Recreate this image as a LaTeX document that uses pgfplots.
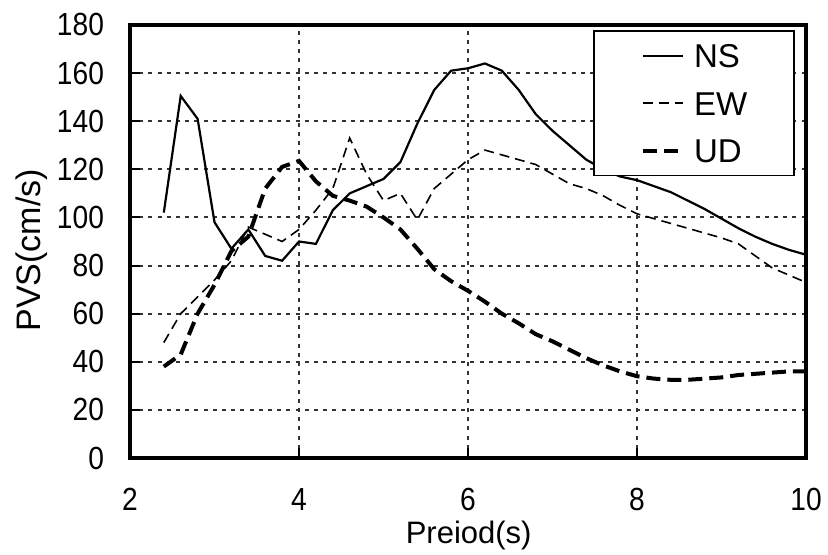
\documentclass[border=0pt]{standalone}
\usepackage{fontspec}
\setmainfont{Liberation Sans}
\newfontfamily\tickfont[FakeStretch=0.88]{Liberation Sans}
\usepackage{pgfplots}
\pgfplotsset{compat=1.18}
\begin{document}
\begin{tikzpicture}
\begin{axis}[
  scale only axis,
  width=338pt, height=216.5pt,
  xmin=2, xmax=10, ymin=0, ymax=180,
  xtick={2,4,6,8,10}, ytick={0,20,...,180},
  /pgf/number format/assume math mode=true,
  tick label style={font=\tickfont\fontsize{16}{19}\selectfont},
  xticklabel style={yshift=-11.7pt},
  yticklabel style={xshift=-9.5pt},
  axis line style={line width=1.6pt},
  tick style={line width=1pt, black},
  major tick length=5pt,
  tick align=inside,
  xtick pos=bottom, ytick pos=left,
  grid=major,
  grid style={line width=1pt, black!80, dash pattern=on 2pt off 2.6pt},
  xlabel={Preiod(s)}, ylabel={PVS(cm/s)},
  xlabel style={font=\fontsize{15.5}{18}\selectfont, at={(axis description cs:0.501,-0.178)}, anchor=center},
  ylabel style={font=\fontsize{17}{20}\selectfont, at={(axis description cs:-0.145,0.48)}, anchor=center},
  legend style={at={(0.9837,0.9885)}, anchor=north east,
    draw=black, line width=0.8pt, inner xsep=23.5pt, inner ysep=6.5pt,
    font=\fontsize{16.5}{19}\selectfont, row sep=11.7pt, column sep=4.5pt,
    nodes={inner sep=0pt, text height=12pt, text depth=0pt}},
  legend cell align=left,
  legend image code/.code={\draw[#1] (0pt,0pt) -- (20pt,0pt);},
]
\addplot[black, line width=1.1pt] coordinates {
(2.4,102) (2.6,150.5) (2.8,141) (3.0,98) (3.2,87) (3.4,95) (3.6,84) (3.8,82)
(4.0,90) (4.2,89) (4.4,103) (4.6,110) (4.8,113) (5.0,116) (5.2,123) (5.4,139)
(5.6,153) (5.8,161) (6.0,162) (6.2,164) (6.4,161) (6.6,153) (6.8,143) (7.0,136)
(7.2,130) (7.4,124) (7.6,120) (7.8,117) (8.0,115.5) (8.2,113) (8.4,110.5)
(8.6,107) (8.8,103.5) (9.0,99.5) (9.2,95.5) (9.4,92) (9.6,89) (9.8,86.5) (10.0,84.5)
};
\addlegendentry{NS}
\addplot[black, line width=0.8pt, dash pattern=on 5pt off 3pt] coordinates {
(2.4,48) (2.6,60) (2.8,67) (3.0,74) (3.2,82) (3.4,96) (3.6,93) (3.8,90)
(4.0,95) (4.2,103) (4.4,112) (4.6,133) (4.8,118) (5.0,107) (5.2,110) (5.4,99)
(5.6,112) (5.8,118) (6.0,124) (6.2,128) (6.4,126) (6.6,124) (6.8,122) (7.0,118)
(7.2,114) (7.4,112) (7.6,109) (7.8,105) (8.0,101.5) (8.2,99.5) (8.4,97.5)
(8.6,95.5) (8.8,93.5) (9.0,91.5) (9.2,89) (9.4,84) (9.6,79) (9.8,76) (10.0,73)
};
\addlegendentry{EW}
\addplot[black, line width=2pt, dash pattern=on 7pt off 3.5pt] coordinates {
(2.4,38) (2.6,43) (2.8,60) (3.0,72) (3.2,86) (3.4,92) (3.6,112) (3.8,121)
(4.0,123.5) (4.2,115) (4.4,109) (4.6,107) (4.8,104.5) (5.0,100) (5.2,95) (5.4,87)
(5.6,78.5) (5.8,73.5) (6.0,69.5) (6.2,65) (6.4,60) (6.6,56) (6.8,51.5) (7.0,48.5)
(7.2,45) (7.4,41.5) (7.6,38.5) (7.8,36) (8.0,34) (8.2,33) (8.4,32.5) (8.6,32.5)
(8.8,33) (9.0,33.5) (9.2,34.5) (9.4,35) (9.6,35.5) (9.8,36) (10.0,36)
};
\addlegendentry{UD}
\coordinate (bl) at (rel axis cs:-0.1923,-0.2217);
\coordinate (tr) at (rel axis cs:1.0325,1.0577);
\end{axis}
\pgfresetboundingbox
\path (bl) rectangle (tr);
\end{tikzpicture}
\end{document}
